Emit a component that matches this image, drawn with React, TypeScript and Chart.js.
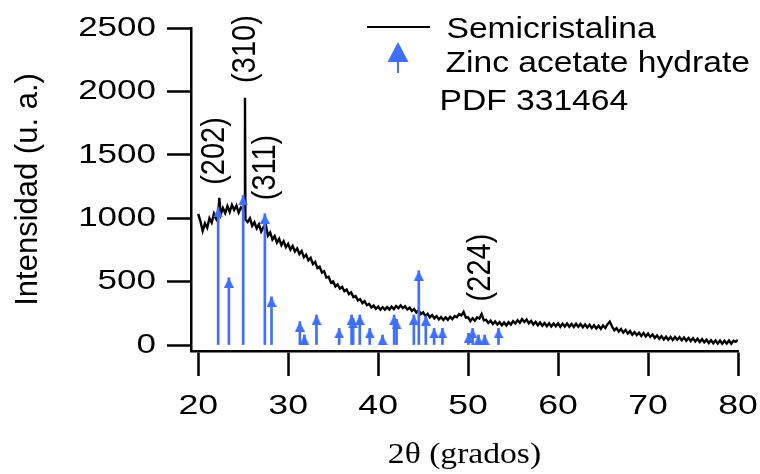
import React, { useEffect, useRef } from 'react';
import { Chart, registerables } from 'chart.js';

Chart.register(...registerables);

// ---- Measured pattern (Semicristalina) ----
const angles = [
  20, 20.25, 20.5, 20.75, 21, 21.25, 21.5, 21.75, 22, 22.25, 22.35, 22.5, 22.75,
  23, 23.25, 23.5, 23.75, 24, 24.25, 24.5, 24.75, 25, 25.15, 25.2, 25.25, 25.5, 25.75,
  26, 26.25, 26.5, 26.75, 27, 27.25, 27.5, 27.75,
  28, 28.25, 28.5, 28.75, 29, 29.25, 29.5, 29.75,
  30, 30.25, 30.5, 30.75, 31, 31.25, 31.5, 31.75,
  32, 32.25, 32.5, 32.75, 33, 33.25, 33.5, 33.75,
  34, 34.25, 34.5, 34.75, 35, 35.25, 35.5, 35.75,
  36, 36.25, 36.5, 36.75, 37, 37.25, 37.5, 37.75,
  38, 38.25, 38.5, 38.75, 39, 39.25, 39.5, 39.75,
  40, 40.25, 40.5, 40.75, 41, 41.25, 41.5, 41.75,
  42, 42.25, 42.5, 42.75, 43, 43.25, 43.5, 43.75,
  44, 44.25, 44.5, 44.75, 45, 45.25, 45.5, 45.75,
  46, 46.25, 46.5, 46.75, 47, 47.25, 47.5, 47.75,
  48, 48.25, 48.5, 48.75, 49, 49.25, 49.5, 49.75,
  50, 50.25, 50.5, 50.75, 51, 51.25, 51.5, 51.75,
  52, 52.25, 52.5, 52.75, 53, 53.25, 53.5, 53.75,
  54, 54.25, 54.5, 54.75, 55, 55.25, 55.5, 55.75,
  56, 56.25, 56.5, 56.75, 57, 57.25, 57.5, 57.75,
  58, 58.25, 58.5, 58.75, 59, 59.25, 59.5, 59.75,
  60, 60.25, 60.5, 60.75, 61, 61.25, 61.5, 61.75,
  62, 62.25, 62.5, 62.75, 63, 63.25, 63.5, 63.75,
  64, 64.25, 64.5, 64.75, 65, 65.25, 65.5, 65.75,
  66, 66.25, 66.5, 66.75, 67, 67.25, 67.5, 67.75,
  68, 68.25, 68.5, 68.75, 69, 69.25, 69.5, 69.75,
  70, 70.25, 70.5, 70.75, 71, 71.25, 71.5, 71.75,
  72, 72.25, 72.5, 72.75, 73, 73.25, 73.5, 73.75,
  74, 74.25, 74.5, 74.75, 75, 75.25, 75.5, 75.75,
  76, 76.25, 76.5, 76.75, 77, 77.25, 77.5, 77.75,
  78, 78.25, 78.5, 78.75, 79, 79.25, 79.5, 79.75,
  80,
];
const counts = [
  1035, 975, 900, 960, 925, 1000, 965, 1035, 995, 1065, 1160, 1030, 1080,
  1040, 1095, 1050, 1105, 1065, 1100, 1045, 1085, 1065, 1085, 1950, 990, 970, 1000,
  940, 968, 920, 952, 895, 930, 955, 862,
  888, 832, 858, 808, 838, 788, 818, 772,
  798, 752, 782, 738, 762, 718, 742, 692,
  712, 668, 688, 638, 656, 608, 618, 572,
  582, 532, 538, 492, 502, 462, 478, 444,
  458, 424, 438, 402, 416, 378, 386, 352,
  362, 330, 346, 314, 324, 296, 312, 286,
  304, 279, 298, 278, 299, 280, 303, 284,
  308, 290, 312, 292, 306, 280, 296, 269,
  284, 256, 276, 244, 258, 230, 246, 219,
  236, 210, 228, 202, 220, 198, 218, 199,
  222, 204, 228, 219, 244, 234, 262, 216,
  218, 189, 211, 192, 218, 209, 244, 194,
  198, 174, 192, 166, 186, 162, 180, 156,
  178, 154, 180, 162, 188, 170, 196, 176,
  204, 182, 201, 172, 190, 162, 182, 156,
  178, 152, 174, 149, 172, 146, 170, 148,
  171, 144, 168, 146, 169, 144, 166, 142,
  167, 144, 166, 140, 162, 138, 160, 134,
  156, 130, 152, 128, 154, 134, 164, 184,
  146, 116, 134, 106, 126, 98, 118, 90,
  110, 82, 102, 78, 98, 72, 94, 68,
  90, 64, 84, 56, 76, 50, 70, 44,
  66, 42, 64, 40, 64, 42, 62, 38,
  60, 34, 56, 32, 54, 28, 50, 24,
  46, 22, 42, 16, 38, 14, 36, 12,
  36, 10, 34, 12, 36, 10, 34, 26,
  40,
];

// ---- Reference pattern (Zinc acetate hydrate, PDF 331464) ----
const refAngles = [
  22.22, 23.41, 25.0, 27.41, 28.15, 31.3, 31.8, 33.15, 35.67, 37.05, 37.22, 37.96,
  39.07, 40.49, 41.78, 42.05, 43.97, 44.52, 45.3, 46.22, 47.15, 50.05, 50.5, 51.15,
  51.85, 53.38,
];
const refHeights = [
  1085, 530, 1180, 1035, 380, 185, 80, 237, 131, 237, 210, 237,
  131, 79, 237, 203, 237, 586, 230, 131, 131, 92, 131, 79,
  79, 131,
];

// ---- Axes / labels ----
const xTickValues = [20, 30, 40, 50, 60, 70, 80];
const yTickValues = [0, 500, 1000, 1500, 2000, 2500];
const xTitle = '2θ (grados)';
const yTitle = 'Intensidad (u. a.)';
const seriesName = 'Semicristalina';
const refNameLines = ['Zinc acetate hydrate', 'PDF 331464'];
const peakLabels = ['(202)', '(310)', '(311)', '(224)'];
const peakLabelAngles = [21.81, 25.31, 27.48, 51.42];
const peakLabelHeights = [1530, 2334, 1400, 611];

const BLUE = 'rgb(64,110,254)';
const SANS = '"Liberation Sans", Arial, Helvetica, sans-serif';
const SERIF = '"Liberation Serif", "Times New Roman", Times, serif';

// horizontal stretch of text, keyed by font size (reference text is wide)
const STRETCH: Record<number, number> = { 27: 1.32, 28: 1.25, 30: 1.12, 29: 1.15, 31: 1 };

function patchText(ctx: any) {
  if (ctx.__stretched) return;
  ctx.__stretched = true;
  const orig = CanvasRenderingContext2D.prototype.fillText;
  ctx.fillText = function (text: string, x: number, y: number, maxWidth?: number) {
    const m = /(\d+(?:\.\d+)?)px/.exec(this.font);
    const size = m ? Math.round(parseFloat(m[1])) : 0;
    const s = STRETCH[size] ?? 1;
    if (s === 1) {
      if (maxWidth === undefined) orig.call(this, text, x, y);
      else orig.call(this, text, x, y, maxWidth);
      return;
    }
    const t = this.getTransform();
    const p = t.transformPoint(new DOMPoint(x, y));
    const S = new DOMMatrix().translate(p.x, p.y).scale(s, 1).translate(-p.x, -p.y);
    this.setTransform(S.multiply(t));
    orig.call(this, text, x, y);
    this.setTransform(t);
  };
}

function makeArrowHead(w: number, h: number) {
  const c = document.createElement('canvas');
  c.width = w;
  c.height = h * 2;
  const g = c.getContext('2d')!;
  g.fillStyle = BLUE;
  g.beginPath();
  g.moveTo(w / 2, h);
  g.lineTo(w, 2 * h);
  g.lineTo(0, 2 * h);
  g.closePath();
  g.fill();
  return c;
}

const overlayPlugin = {
  id: 'overlay',
  afterDraw(chart: any) {
    const { ctx, scales } = chart;
    const xs = scales.x;
    const ys = scales.y;
    ctx.save();
    ctx.fillStyle = '#000';
    // peak labels (rotated)
    ctx.font = `29px ${SANS}`;
    ctx.textAlign = 'center';
    ctx.textBaseline = 'middle';
    peakLabels.forEach((t, i) => {
      const px = xs.getPixelForValue(peakLabelAngles[i]);
      const py = ys.getPixelForValue(peakLabelHeights[i]);
      ctx.save();
      ctx.translate(px, py);
      ctx.rotate(-Math.PI / 2);
      ctx.fillText(t, 0, 0);
      ctx.restore();
    });

    // legend
    const L = chart.chartArea.right - 371;
    ctx.strokeStyle = '#000';
    ctx.lineWidth = 2;
    ctx.beginPath();
    ctx.moveTo(L, 27);
    ctx.lineTo(L + 63, 27);
    ctx.stroke();
    ctx.font = `30px ${SANS}`;
    ctx.textAlign = 'left';
    ctx.textBaseline = 'alphabetic';
    ctx.fillText(seriesName, L + 79.5, 38);

    const ax = L + 31;
    ctx.fillStyle = BLUE;
    ctx.beginPath();
    ctx.moveTo(ax, 42);
    ctx.lineTo(ax + 10.5, 62);
    ctx.lineTo(ax - 10.5, 62);
    ctx.closePath();
    ctx.fill();
    ctx.fillRect(ax - 1, 61, 2, 12);

    ctx.fillStyle = '#000';
    ctx.fillText(refNameLines[0], L + 78.5, 72);
    ctx.fillText(refNameLines[1], L + 72.5, 110);
    ctx.restore();
  },
};

export default function App() {
  const ref = useRef<HTMLCanvasElement>(null);
  useEffect(() => {
    const canvas = ref.current!;
    const ctx = canvas.getContext('2d')!;
    patchText(ctx);
    const arrowHead = makeArrowHead(10, 10);
    const refPoints = refAngles.map((a, i) => ({ x: a, y: refHeights[i] }));
    const chart = new Chart(ctx, {
      type: 'line',
      data: {
        datasets: [
          {
            type: 'line',
            label: seriesName,
            data: angles.map((a, i) => ({ x: a, y: counts[i] })),
            borderColor: '#000',
            borderWidth: 2.4,
            pointRadius: 0,
            tension: 0,
            fill: false,
            order: 3,
          } as any,
          {
            type: 'bar',
            label: refNameLines[0],
            data: refPoints,
            backgroundColor: BLUE,
            borderWidth: 0,
            barThickness: 2,
            order: 2,
          } as any,
          {
            type: 'line',
            label: 'arrows',
            data: refPoints,
            showLine: false,
            pointStyle: arrowHead,
            pointRadius: 5,
            order: 1,
          } as any,
        ],
      },
      options: {
        animation: false,
        responsive: false,
        devicePixelRatio: 1,
        layout: { padding: { left: 0, right: 22, top: 28, bottom: 0 } },
        plugins: {
          legend: { display: false },
          tooltip: { enabled: false },
        },
        scales: {
          x: {
            type: 'linear',
            min: 19.2,
            max: 80,
            offset: false,
            afterBuildTicks: (s: any) => {
              s.ticks = xTickValues.map((v) => ({ value: v }));
            },
            afterFit: (s: any) => {
              s.height = 123;
              s.paddingLeft = 0;
              s.paddingRight = 0;
            },
            grid: {
              drawOnChartArea: false,
              drawTicks: true,
              tickLength: 25,
              tickWidth: 2.5,
              tickColor: '#000',
              offset: false,
            },
            border: { display: true, color: '#000', width: 2.5 },
            ticks: {
              color: '#000',
              font: { family: SANS, size: 27 },
              padding: 14,
              maxRotation: 0,
              autoSkip: false,
              callback: (v: any) => String(v),
            },
            title: {
              display: true,
              text: xTitle,
              color: '#000',
              font: { family: SERIF, size: 30, lineHeight: 1 },
              padding: { top: 0, bottom: 4 },
            },
          },
          y: {
            type: 'linear',
            min: -47,
            max: 2500,
            afterBuildTicks: (s: any) => {
              s.ticks = yTickValues.map((v) => ({ value: v }));
            },
            afterFit: (s: any) => {
              s.width = 191;
            },
            grid: {
              drawOnChartArea: false,
              drawTicks: true,
              tickLength: 24,
              tickWidth: 2.5,
              tickColor: '#000',
            },
            border: { display: true, color: '#000', width: 2.5 },
            ticks: {
              color: '#000',
              font: { family: SANS, size: 28 },
              padding: 11,
              callback: (v: any) => String(v),
            },
            title: {
              display: true,
              text: yTitle,
              color: '#000',
              font: { family: SANS, size: 31 },
              padding: { top: 10, bottom: 0 },
            },
          },
        },
      } as any,
      plugins: [overlayPlugin],
    });
    return () => chart.destroy();
  }, []);

  return (
    <div style={{ position: 'fixed', left: 0, top: 0, width: 760, height: 474, background: '#fff' }}>
      <canvas ref={ref} width={760} height={474} style={{ display: 'block', width: 760, height: 474 }} />
    </div>
  );
}
